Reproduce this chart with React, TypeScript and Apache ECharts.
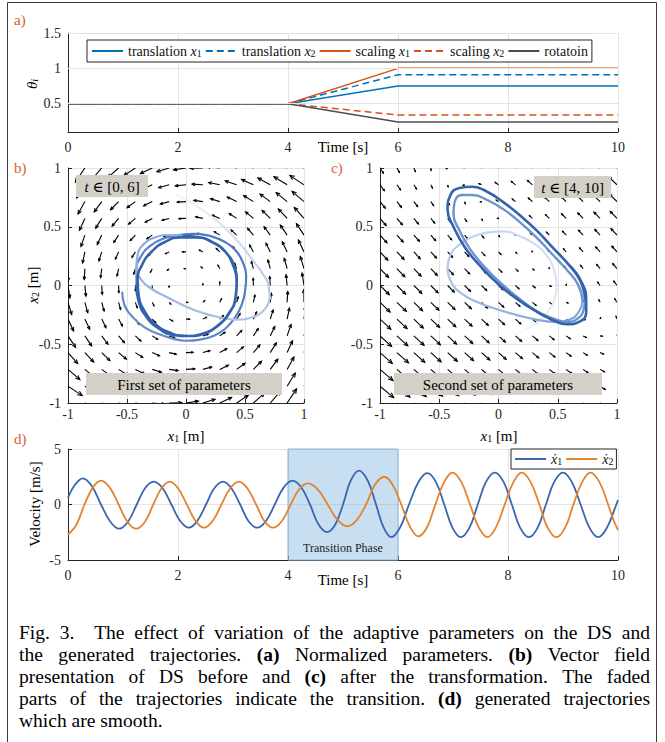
import React, { useEffect, useRef } from 'react';
import * as echarts from 'echarts';

const FONT = 'Liberation Serif, DejaVu Serif, serif';
const INK = '#262626';
const GRID_LINE = '#E3E3E3';
const LABEL_RED = '#D9602E';

// ---------------- panel a: normalized parameters ----------------
const timeA = [0, 4, 6, 10];
const translationX1 = [0.5, 0.5, 0.75, 0.75];
const translationX2 = [0.5, 0.5, 0.91, 0.91];
const scalingX1 = [0.5, 0.5, 1.0, 1.0];
const scalingX2 = [0.5, 0.5, 0.34, 0.34];
const rotatoin = [0.5, 0.5, 0.24, 0.24];
const thetaTicks = [0.5, 1, 1.5];

// ---------------- panels b, c: vector fields ----------------
const fieldGrid = [-1, -0.857, -0.714, -0.571, -0.429, -0.286, -0.143, 0, 0.143, 0.286, 0.429, 0.571, 0.714, 0.857, 1];
// limit cycle: centre x, centre y, semi-axis 1, semi-axis 2, angle (deg)
const cycleB = [0, 0, 0.42, 0.42, 0];
const cycleC = [0.22, 0.32, 0.8, 0.2, -45];
const radialGain = [0.032, 0.005];
const arrowGamma = [1, 0.72];

// trajectory b, t in [0,6]
const trajB1 = [[-0.54, -0.06], [-0.52, -0.17], [-0.45, -0.27], [-0.36, -0.35], [-0.24, -0.41], [-0.12, -0.45], [0.0, -0.47], [0.12, -0.46], [0.23, -0.43], [0.33, -0.37], [0.41, -0.28], [0.47, -0.17], [0.5, -0.05], [0.51, 0.08], [0.48, 0.2], [0.42, 0.3], [0.33, 0.37], [0.21, 0.42], [0.08, 0.44], [-0.06, 0.43], [-0.19, 0.4], [-0.3, 0.34], [-0.38, 0.25], [-0.42, 0.13], [-0.42, 0.0]];
const trajB2 = [[-0.42, 0.0], [-0.4, -0.14], [-0.34, -0.26], [-0.24, -0.36], [-0.11, -0.42], [0.02, -0.43], [0.15, -0.41], [0.27, -0.34], [0.37, -0.23], [0.42, -0.1], [0.43, 0.04], [0.4, 0.17], [0.33, 0.29], [0.22, 0.37], [0.09, 0.41], [-0.05, 0.41], [-0.18, 0.37], [-0.29, 0.29], [-0.37, 0.18], [-0.41, 0.05], [-0.4, -0.09], [-0.35, -0.22], [-0.26, -0.33], [-0.14, -0.4], [0, -0.43], [0.14, -0.41], [0.26, -0.35], [0.36, -0.24], [0.42, -0.11], [0.43, 0.03], [0.41, 0.16], [0.34, 0.28], [0.24, 0.36], [0.11, 0.41], [-0.02, 0.42]];
const trajB3 = [[-0.02, 0.42], [-0.14, 0.43], [-0.26, 0.41], [-0.36, 0.35], [-0.41, 0.26], [-0.42, 0.15], [-0.38, 0.05], [-0.29, -0.03], [-0.16, -0.1], [-0.02, -0.17], [0.13, -0.23], [0.28, -0.27], [0.43, -0.29], [0.56, -0.27], [0.66, -0.21], [0.71, -0.11]];
const trajB4 = [[0.71, -0.11], [0.7, 0.0], [0.65, 0.1], [0.57, 0.21], [0.48, 0.33], [0.37, 0.45], [0.25, 0.56], [0.13, 0.65], [0.02, 0.72], [-0.08, 0.77]];

// trajectory c, t in [4,10]
const trajC1 = [[0.0, -0.43], [0.14, -0.41], [0.28, -0.35], [0.39, -0.25], [0.47, -0.13], [0.49, 0.0]];
const trajC2 = [[0.49, 0.0], [0.47, 0.13], [0.41, 0.25], [0.31, 0.35], [0.18, 0.42], [0.04, 0.46], [-0.1, 0.45]];
const trajC3 = [[-0.1, 0.45], [-0.23, 0.41], [-0.34, 0.34], [-0.41, 0.25], [-0.43, 0.14]];
const trajC4 = [[-0.43, 0.14], [-0.4, 0.03], [-0.31, -0.07], [-0.18, -0.14], [-0.02, -0.2], [0.15, -0.25], [0.32, -0.29], [0.48, -0.31], [0.6, -0.29], [0.68, -0.22], [0.71, -0.13]];
const trajC5 = [[0.71, -0.13], [0.67, 0.01], [0.57, 0.14], [0.45, 0.27], [0.32, 0.41], [0.18, 0.54], [0.04, 0.65], [-0.1, 0.73], [-0.22, 0.77], [-0.31, 0.77], [-0.37, 0.71], [-0.38, 0.61], [-0.33, 0.47], [-0.24, 0.31], [-0.11, 0.15], [0.02, 0.02], [0.16, -0.1], [0.31, -0.21], [0.46, -0.28], [0.58, -0.31], [0.67, -0.28], [0.72, -0.2], [0.73, -0.11]];
const trajC6 = [[0.73, -0.11], [0.69, 0.04], [0.59, 0.18], [0.46, 0.32], [0.33, 0.46], [0.19, 0.59], [0.04, 0.71], [-0.1, 0.8], [-0.22, 0.84], [-0.33, 0.83], [-0.41, 0.76], [-0.43, 0.65], [-0.38, 0.5], [-0.28, 0.32], [-0.14, 0.15], [0.0, 0.01], [0.15, -0.11], [0.3, -0.21], [0.45, -0.29], [0.58, -0.33], [0.68, -0.31], [0.74, -0.23], [0.74, -0.12], [0.7, 0.03], [0.6, 0.17]];

// ---------------- panel d: velocities ----------------
const velT1 = [0, 0.13, 0.27, 0.43, 0.6, 0.77, 0.93, 1.09, 1.25, 1.4, 1.56, 1.72, 1.88, 2.04, 2.2, 2.35, 2.51, 2.66, 2.82, 2.97, 3.13, 3.28, 3.44, 3.6, 3.76, 3.92, 4.08, 4.24, 4.4, 4.55, 4.71, 4.86, 5.0, 5.14, 5.29, 5.45, 5.6, 5.74, 5.88, 6.04, 6.2, 6.37, 6.53, 6.69, 6.84, 6.99, 7.14, 7.3, 7.45, 7.6, 7.76, 7.92, 8.07, 8.22, 8.38, 8.54, 8.69, 8.84, 9.0, 9.16, 9.32, 9.48, 9.64, 9.8, 9.97, 10];
const velX1 = [0.6, 1.8, 2.36, 1.68, 0, -1.55, -2.18, -1.55, 0, 1.46, 2.06, 1.46, 0, -1.48, -2.09, -1.48, 0, 1.46, 2.06, 1.46, 0, -1.48, -2.09, -1.48, 0, 1.52, 2.15, 1.55, 0, -1.75, -2.48, -1.8, 0, 2.15, 3.06, 2.15, 0, -2.08, -2.94, -2.05, 0, 2.0, 2.82, 2.02, 0, -2.08, -2.94, -2.08, 0, 2.04, 2.88, 2.04, 0, -2.08, -2.94, -2.08, 0, 2.04, 2.88, 2.04, 0, -2.08, -2.94, -2.08, 0, 0.4];
const velT2 = [0, 0.15, 0.3, 0.45, 0.6, 0.76, 0.92, 1.08, 1.24, 1.4, 1.55, 1.7, 1.85, 2.0, 2.16, 2.32, 2.47, 2.63, 2.79, 2.95, 3.11, 3.26, 3.42, 3.57, 3.73, 3.89, 4.05, 4.2, 4.36, 4.54, 4.72, 4.9, 5.08, 5.25, 5.42, 5.58, 5.75, 5.9, 6.06, 6.22, 6.37, 6.53, 6.68, 6.84, 6.99, 7.15, 7.31, 7.47, 7.63, 7.78, 7.94, 8.1, 8.25, 8.41, 8.57, 8.72, 8.88, 9.04, 9.19, 9.35, 9.5, 9.66, 9.82, 9.91, 10];
const velX2 = [-2.7, -1.85, 0, 1.52, 2.15, 1.52, 0, -1.55, -2.18, -1.55, 0, 1.46, 2.06, 1.46, 0, -1.48, -2.09, -1.48, 0, 1.46, 2.06, 1.46, 0, -1.48, -2.09, -1.48, 0, 1.35, 1.9, 1.36, 0, -1.38, -1.96, -1.4, 0, 1.77, 2.5, 1.8, 0, -2.03, -2.87, -2.03, 0, 2.04, 2.88, 2.04, 0, -2.08, -2.94, -2.08, 0, 2.04, 2.88, 2.04, 0, -2.08, -2.94, -2.08, 0, 2.04, 2.88, 2.04, 0, -1.3, -2.3];
const transitionPhase = [4, 6];

// ---------------- caption ----------------
const captionLines = [
  'Fig. 3. | The effect of variation of the adaptive parameters on the DS and',
  'the generated trajectories. **(a)** Normalized parameters. **(b)** Vector field',
  'presentation of DS before and **(c)** after the transformation. The faded',
  'parts of the trajectories indicate the transition. **(d)** generated trajectories',
  'which are smooth.',
];

function fieldAt(cyc: number[], gain: number, x: number, y: number) {
  const [cx, cy, a, b, deg] = cyc;
  const th = (deg * Math.PI) / 180;
  const c = Math.cos(th), s = Math.sin(th);
  const dx = x - cx, dy = y - cy;
  const lx = (c * dx + s * dy) / a;
  const ly = (-s * dx + c * dy) / b;
  const g = gain * (1 - (lx * lx + ly * ly));
  const fx = -ly + g * lx, fy = lx + g * ly;
  const vx = a * fx, vy = b * fy;
  return [c * vx - s * vy, s * vx + c * vy];
}

function buildField(cyc: number[], gain: number, gamma: number) {
  const raw: number[][] = [];
  let maxMag = 0;
  for (const y of fieldGrid) {
    for (const x of fieldGrid) {
      const [u, v] = fieldAt(cyc, gain, x, y);
      const m = Math.hypot(u, v);
      const mc = Math.pow(m, gamma);
      const f = m > 0 ? mc / m : 0;
      raw.push([x, y, u * f, v * f]);
      maxMag = Math.max(maxMag, mc);
    }
  }
  const step = fieldGrid[1] - fieldGrid[0];
  const k = (1.1 * step) / maxMag;
  return raw.map(([x, y, u, v]) => [x, y, u * k, v * k]);
}

const quiverRender = (params: any, api: any) => {
  const x = api.value(0), y = api.value(1), u = api.value(2), v = api.value(3);
  const p0 = api.coord([x, y]);
  const p1 = api.coord([x + u, y + v]);
  const dx = p1[0] - p0[0], dy = p1[1] - p0[1];
  const len = Math.hypot(dx, dy);
  if (len < 0.4) return { type: 'group', children: [] };
  const a = Math.atan2(dy, dx);
  const hl = Math.max(1.3, len * 0.3);
  const ha = 0.42;
  const h1 = [p1[0] - hl * Math.cos(a - ha), p1[1] - hl * Math.sin(a - ha)];
  const h2 = [p1[0] - hl * Math.cos(a + ha), p1[1] - hl * Math.sin(a + ha)];
  return {
    type: 'group',
    children: [
      { type: 'line', shape: { x1: p0[0], y1: p0[1], x2: p1[0], y2: p1[1] }, style: { stroke: '#000', lineWidth: 1.1 } },
      { type: 'polyline', shape: { points: [h1, p1, h2] }, style: { stroke: '#000', fill: 'none', lineWidth: 1.1 } },
    ],
  };
};

const rich = {
  t: { fontFamily: FONT, fontSize: 14, color: '#111' },
  i: { fontFamily: FONT, fontSize: 14, fontStyle: 'italic', color: '#111' },
  s: { fontFamily: FONT, fontSize: 10, color: '#111', verticalAlign: 'bottom', lineHeight: 9 },
};
const richBig = {
  t: { fontFamily: FONT, fontSize: 15, color: INK },
  i: { fontFamily: FONT, fontSize: 15, fontStyle: 'italic', color: INK },
  s: { fontFamily: FONT, fontSize: 10, color: INK, verticalAlign: 'bottom', lineHeight: 10 },
  si: { fontFamily: FONT, fontSize: 10, fontStyle: 'italic', color: INK, verticalAlign: 'bottom', lineHeight: 10 },
};
const AXNAME_RED = '#D8744A';
const richRed = {
  t: { fontFamily: FONT, fontSize: 15, color: AXNAME_RED },
  i: { fontFamily: FONT, fontSize: 15, fontStyle: 'italic', color: AXNAME_RED },
  s: { fontFamily: FONT, fontSize: 10, color: AXNAME_RED, verticalAlign: 'bottom', lineHeight: 10 },
};

function axis(gridIndex: number, min: number, max: number, interval: number | null, extra: any = {}) {
  const ax: any = {
    type: 'value',
    gridIndex,
    min,
    max,
    axisLine: { show: true, onZero: false, lineStyle: { color: INK, width: 1 } },
    axisTick: { show: true, inside: true, length: 4, lineStyle: { color: INK } },
    axisLabel: { color: INK, fontFamily: FONT, fontSize: 14, margin: 6, ...(extra.axisLabel || {}) },
    splitLine: { show: true, lineStyle: { color: GRID_LINE, width: 1 } },
  };
  if (interval !== null) ax.interval = interval;
  if (extra.axisTick) ax.axisTick = { ...ax.axisTick, ...extra.axisTick };
  if (extra.splitLine) ax.splitLine = { ...ax.splitLine, ...extra.splitLine };
  return ax;
}

const zip = (xs: number[], ys: number[]) => xs.map((t, i) => [t, ys[i]]);
const grad = (x0: number, y0: number, x1: number, y1: number, c0: string, c1: string) =>
  new echarts.graphic.LinearGradient(x0, y0, x1, y1, [{ offset: 0, color: c0 }, { offset: 1, color: c1 }]);

function trajSeries(axisIdx: number, data: number[][], color: any, width: number, z = 4) {
  return {
    type: 'line',
    xAxisIndex: axisIdx,
    yAxisIndex: axisIdx,
    data,
    smooth: 0.5,
    symbol: 'none',
    silent: true,
    z,
    lineStyle: { color, width, cap: 'round', join: 'round' },
  };
}

function buildCaption(): any[] {
  const out: any[] = [];
  const canvas = document.createElement('canvas');
  const ctx = canvas.getContext('2d') as CanvasRenderingContext2D;
  const fs = 19.5;
  const left = 19, right = 650, top = 632, lh = 22.2;
  const fontOf = (bold: boolean) => `${bold ? 'bold ' : ''}${fs}px Liberation Serif`;
  captionLines.forEach((line, li) => {
    const raw = line.split(' ');
    const toks: { text: string; bold: boolean; extra: number }[] = [];
    let pendingExtra = 0;
    raw.forEach((r) => {
      if (r === '|') { pendingExtra += 10; return; }
      const bold = r.startsWith('**');
      toks.push({ text: r.replace(/\*\*/g, ''), bold, extra: pendingExtra });
      pendingExtra = 0;
    });
    const widths = toks.map((t) => { ctx.font = fontOf(t.bold); return ctx.measureText(t.text).width; });
    const sum = widths.reduce((a, b) => a + b, 0) + toks.reduce((a, t) => a + t.extra, 0);
    const last = li === captionLines.length - 1;
    ctx.font = fontOf(false);
    const space = ctx.measureText(' ').width;
    const gap = last ? space : (right - left - sum) / (toks.length - 1);
    let x = left;
    toks.forEach((t, i) => {
      x += t.extra;
      out.push({
        type: 'text',
        x,
        y: top + li * lh,
        silent: true,
        style: { text: t.text, fontFamily: FONT, fontSize: fs, fontWeight: t.bold ? 'bold' : 'normal', fill: '#000', align: 'left', verticalAlign: 'middle' },
      });
      x += widths[i] + gap;
    });
  });
  return out;
}

function label(text: string, x: number, y: number, r: any = richBig, rotation = 0) {
  return { type: 'text', x, y, rotation, silent: true, style: { text, rich: r, align: 'center', verticalAlign: 'middle' } };
}

function tagBox(x: number, y: number, w: number, h: number, text: string) {
  return [
    { type: 'rect', shape: { x, y, width: w, height: h }, style: { fill: '#D4D0C8' }, silent: true, z: 50 },
    { type: 'text', x: x + w / 2, y: y + h / 2 + 0.5, silent: true, z: 51, style: { text, rich: richBig, align: 'center', verticalAlign: 'middle' } },
  ];
}

export default function App() {
  const ref = useRef<HTMLDivElement>(null);
  useEffect(() => {
    document.body.style.margin = '0';
    if (!ref.current) return;
    const chart = echarts.init(ref.current, null, { renderer: 'svg' });

    const fieldB = buildField(cycleB, radialGain[0], arrowGamma[0]);
    const fieldC = buildField(cycleC, radialGain[1], arrowGamma[1]);

    const legendFormatter = (name: string) => {
      const m = name.match(/^(.*) x(\d)$/);
      if (m) return `{t|${m[1]} }{i|x}{s|${m[2]}}`;
      const d = name.match(/^xd(\d)$/);
      if (d) return `{i|\u1E8B}{s|${d[1]}}`;
      return `{t|${name}}`;
    };

    const C_BLUE = '#0072BD', C_ORANGE = '#D95319', C_GRAY = '#4D4D4D';
    const D_BLUE = '#3A66B0', D_ORANGE = '#E3832E';
    const hiddenSymbol = { color: 'rgba(0,0,0,0)', borderColor: 'rgba(0,0,0,0)', borderWidth: 0, opacity: 0 };

    const option: any = {
      animation: false,
      backgroundColor: '#fff',
      textStyle: { fontFamily: FONT },
      grid: [
        { left: 68, top: 33, width: 550, height: 99 },
        { left: 68, top: 168, width: 236, height: 235 },
        { left: 380, top: 168, width: 237, height: 235 },
        { left: 68, top: 449, width: 550, height: 111 },
      ],
      xAxis: [
        axis(0, 0, 10, 2, { axisLabel: { margin: 8 } }),
        axis(1, -1, 1, 0.5, { axisLabel: { margin: 4 } }),
        axis(2, -1, 1, 0.5, { axisLabel: { margin: 4 } }),
        axis(3, 0, 10, 2, { axisLabel: { margin: 8 } }),
      ],
      yAxis: [
        axis(0, 0.1, 1.5, null, { axisLabel: { customValues: thetaTicks, margin: 7 }, axisTick: { customValues: thetaTicks }, splitLine: { show: false } }),
        axis(1, -1, 1, 0.5, { axisLabel: { margin: 7 } }),
        axis(2, -1, 1, 0.5, { axisLabel: { margin: 7 } }),
        axis(3, -5, 5, 5, { axisLabel: { margin: 7 } }),
      ],
      legend: [
        {
          left: 87, top: 40, orient: 'horizontal', itemWidth: 31, itemHeight: 12, itemGap: 3,
          padding: [4, 4], borderColor: INK, borderWidth: 1, backgroundColor: '#fff',
          itemStyle: hiddenSymbol,
          data: ['translation x1', 'translation x2', 'scaling x1', 'scaling x2', 'rotatoin'],
          formatter: legendFormatter, textStyle: { rich, fontFamily: FONT, fontSize: 14 }, selectedMode: false,
        },
        {
          left: 511, top: 449, orient: 'horizontal', itemWidth: 31, itemHeight: 12, itemGap: 3,
          padding: [3, 3], borderColor: INK, borderWidth: 1, backgroundColor: '#fff',
          itemStyle: hiddenSymbol,
          data: ['xd1', 'xd2'], formatter: legendFormatter,
          textStyle: { rich, fontFamily: FONT, fontSize: 14 }, selectedMode: false,
        },
      ],
      series: [
        {
          type: 'line', xAxisIndex: 0, yAxisIndex: 0, data: [], z: 1, silent: true,
          markLine: { silent: true, symbol: 'none', label: { show: false }, lineStyle: { color: GRID_LINE, width: 1, type: 'solid' }, data: thetaTicks.map((v) => ({ yAxis: v })) },
        },
        { name: 'translation x1', type: 'line', xAxisIndex: 0, yAxisIndex: 0, data: zip(timeA, translationX1), symbol: 'none', lineStyle: { color: C_BLUE, width: 1.5 }, itemStyle: { color: C_BLUE } },
        { name: 'translation x2', type: 'line', xAxisIndex: 0, yAxisIndex: 0, data: zip(timeA, translationX2), symbol: 'none', lineStyle: { color: C_BLUE, width: 1.5, type: [7, 4] }, itemStyle: { color: C_BLUE } },
        { name: 'scaling x1', type: 'line', xAxisIndex: 0, yAxisIndex: 0, data: zip(timeA, scalingX1), symbol: 'none', lineStyle: { color: C_ORANGE, width: 1.5 }, itemStyle: { color: C_ORANGE } },
        { name: 'scaling x2', type: 'line', xAxisIndex: 0, yAxisIndex: 0, data: zip(timeA, scalingX2), symbol: 'none', lineStyle: { color: C_ORANGE, width: 1.5, type: [7, 4] }, itemStyle: { color: C_ORANGE } },
        { name: 'rotatoin', type: 'line', xAxisIndex: 0, yAxisIndex: 0, data: zip(timeA, rotatoin), symbol: 'none', lineStyle: { color: C_GRAY, width: 1.5 }, itemStyle: { color: C_GRAY } },

        { type: 'custom', xAxisIndex: 1, yAxisIndex: 1, data: fieldB, renderItem: quiverRender, encode: { x: 0, y: 1 }, clip: true, silent: true, z: 3 },
        trajSeries(1, trajB1, grad(0, 1, 1, 0, '#6A90CC', '#4C78BE'), 2.2),
        trajSeries(1, trajB2, '#3562AD', 2.6, 5),
        trajSeries(1, trajB3, grad(0, 0, 1, 1, '#8DADDC', '#B2C7E8'), 2.2),
        trajSeries(1, trajB4, grad(1, 1, 0, 0, '#B2C7E8', '#F3F6FB'), 2.2),

        { type: 'custom', xAxisIndex: 2, yAxisIndex: 2, data: fieldC, renderItem: quiverRender, encode: { x: 0, y: 1 }, clip: true, silent: true, z: 3 },
        trajSeries(2, trajC1, grad(0, 1, 1, 0, '#FFFFFF', '#DCE5F4'), 2.2),
        trajSeries(2, trajC2, grad(1, 1, 0, 0, '#DCE5F4', '#C6D5EE'), 2.2),
        trajSeries(2, trajC3, grad(1, 0, 0, 1, '#C6D5EE', '#B4C8E8'), 2.2),
        trajSeries(2, trajC4, grad(0, 0, 1, 1, '#B4C8E8', '#7FA2D8'), 2.2),
        trajSeries(2, trajC5, '#6C93CE', 2.4),
        trajSeries(2, trajC6, '#3562AD', 2.6, 5),

        { name: 'xd1', type: 'line', xAxisIndex: 3, yAxisIndex: 3, data: zip(velT1, velX1), smooth: 0.4, symbol: 'none', lineStyle: { color: D_BLUE, width: 1.8 }, itemStyle: { color: D_BLUE }, z: 2 },
        { name: 'xd2', type: 'line', xAxisIndex: 3, yAxisIndex: 3, data: zip(velT2, velX2), smooth: 0.4, symbol: 'none', lineStyle: { color: D_ORANGE, width: 1.8 }, itemStyle: { color: D_ORANGE }, z: 2 },
        {
          type: 'line', xAxisIndex: 3, yAxisIndex: 3, data: [], z: 6, silent: true,
          markArea: {
            silent: true,
            itemStyle: { color: 'rgba(118, 172, 220, 0.4)', borderColor: '#8CB7DD', borderWidth: 1 },
            label: { show: true, position: 'insideBottom', distance: 7, formatter: 'Transition Phase', color: '#222', fontFamily: FONT, fontSize: 12 },
            data: [[{ xAxis: transitionPhase[0] }, { xAxis: transitionPhase[1] }]],
          },
        },
      ],
      graphic: [
        { type: 'rect', shape: { x: 7.5, y: 2.5, width: 649, height: 790 }, style: { fill: 'none', stroke: '#3A3A3A', lineWidth: 1 }, silent: true },
        { type: 'text', x: 14, y: 20, silent: true, style: { text: 'a)', fontFamily: FONT, fontSize: 15, fill: LABEL_RED, align: 'left', verticalAlign: 'middle' } },
        { type: 'text', x: 14, y: 168, silent: true, style: { text: 'b)', fontFamily: FONT, fontSize: 15, fill: LABEL_RED, align: 'left', verticalAlign: 'middle' } },
        { type: 'text', x: 331, y: 168, silent: true, style: { text: 'c)', fontFamily: FONT, fontSize: 15, fill: LABEL_RED, align: 'left', verticalAlign: 'middle' } },
        { type: 'text', x: 14, y: 439, silent: true, style: { text: 'd)', fontFamily: FONT, fontSize: 15, fill: LABEL_RED, align: 'left', verticalAlign: 'middle' } },
        label('{i|\u03B8}{si|i}', 32, 84, richBig, Math.PI / 2),
        label('{t|Time [s]}', 343, 147),
        label('{i|x}{s|2}{t| [m]}', 33, 285, richRed, Math.PI / 2),
        label('{i|x}{s|1}{t| [m]}', 186, 436),
        label('{i|x}{s|1}{t| [m]}', 499, 436),
        label('{t|Velocity [m/s]}', 35, 504, richBig, Math.PI / 2),
        label('{t|Time [s]}', 343, 580),
        ...tagBox(76, 175, 72, 22, '{i|t}{t| \u2208 [0, 6]}'),
        ...tagBox(86, 373, 196, 22, '{t|First set of parameters}'),
        ...tagBox(534, 176, 77, 22, '{i|t}{t| \u2208 [4, 10]}'),
        ...tagBox(394, 373, 208, 22, '{t|Second set of parameters}'),
        ...buildCaption(),
      ],
    };
    chart.setOption(option);
    return () => chart.dispose();
  }, []);
  return <div ref={ref} style={{ width: 665, height: 742 }} />;
}
